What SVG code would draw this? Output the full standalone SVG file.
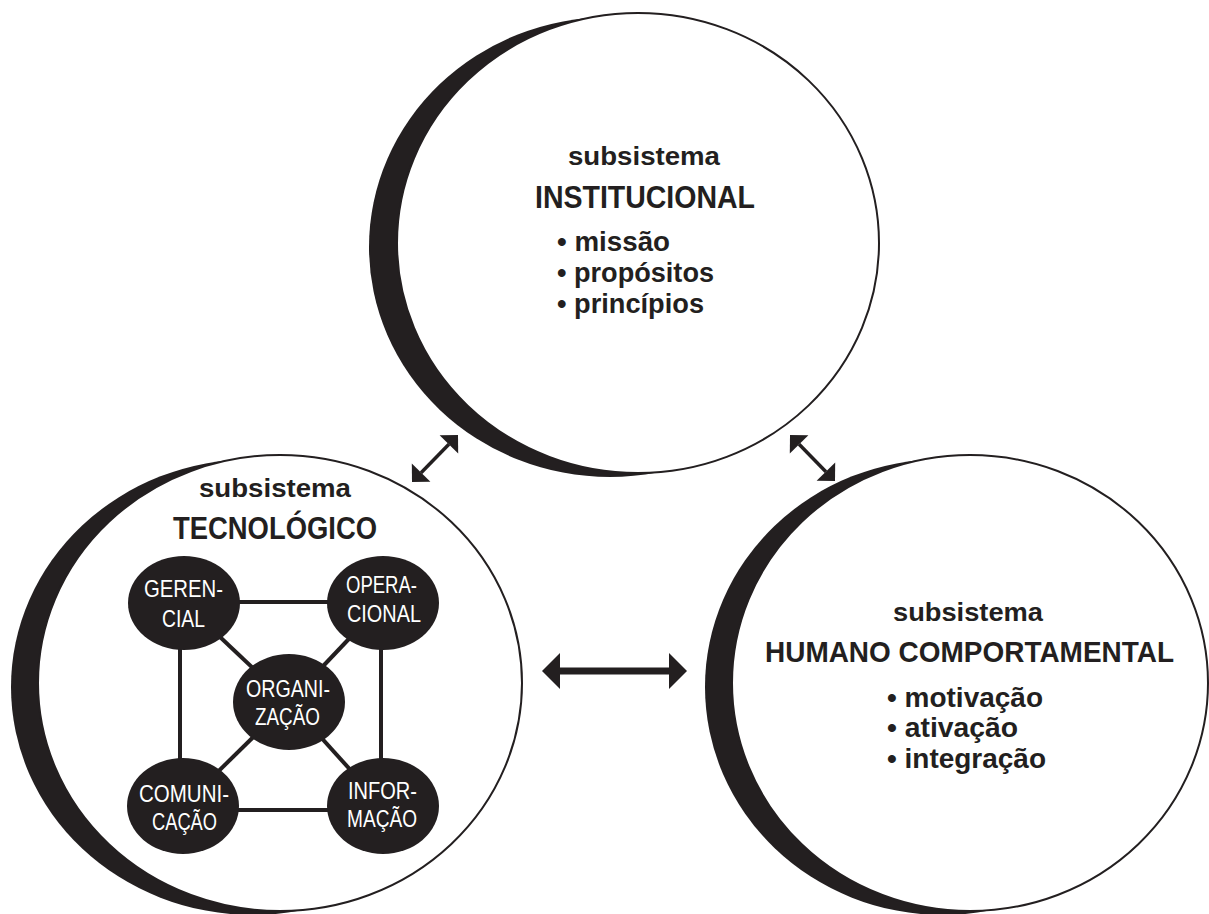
<svg xmlns="http://www.w3.org/2000/svg" width="1209" height="914" viewBox="0 0 1209 914">
<style>
  .bg { fill: #ffffff; }
  .shadow { fill: #231f20; }
  .ring { fill: #ffffff; stroke: #231f20; stroke-width: 2; }
  .t { font-family: "Liberation Sans", Arial, sans-serif; font-weight: bold; fill: #231f20; }
  .sub { font-size: 26px; }
  .title { font-size: 32px; }
  .title2 { font-size: 30px; }
  .item { font-size: 28px; }
  .node { fill: #231f20; }
  .nt { font-family: "Liberation Sans", Arial, sans-serif; font-weight: normal; font-size: 24px; fill: #ffffff; }
  .link { stroke: #231f20; stroke-width: 4; fill: none; }
  .arrow { stroke: #231f20; fill: none; }
</style>
<defs>
  <marker id="headBig" markerUnits="userSpaceOnUse" viewBox="0 0 18 36" markerWidth="18" markerHeight="36" refX="0" refY="18" orient="auto-start-reverse" overflow="visible">
    <path d="M0,0 L18,18 L0,36 Z" fill="#231f20"/>
  </marker>
  <marker id="headSmall" markerUnits="userSpaceOnUse" viewBox="0 0 13 26" markerWidth="13" markerHeight="26" refX="0" refY="13" orient="auto-start-reverse" overflow="visible">
    <path d="M0,0 L13,13 L0,26 Z" fill="#231f20"/>
  </marker>
</defs>
<rect class="bg" x="0" y="0" width="1209" height="914"/>

<g id="institucional">
  <ellipse class="shadow" cx="610" cy="247" rx="241" ry="230"/>
  <ellipse class="ring" cx="638" cy="243" rx="241" ry="230"/>
  <text class="t sub" x="568" y="165" textLength="152" lengthAdjust="spacingAndGlyphs">subsistema</text>
  <text class="t title" x="535" y="208" textLength="220" lengthAdjust="spacingAndGlyphs">INSTITUCIONAL</text>
  <text class="t item" x="557" y="251" textLength="113" lengthAdjust="spacingAndGlyphs">• missão</text>
  <text class="t item" x="557" y="282" textLength="157" lengthAdjust="spacingAndGlyphs">• propósitos</text>
  <text class="t item" x="557" y="313" textLength="147" lengthAdjust="spacingAndGlyphs">• princípios</text>
</g>

<g id="tecnologico">
  <ellipse class="shadow" cx="253" cy="687" rx="242" ry="228"/>
  <ellipse class="ring" cx="280" cy="683" rx="242" ry="228"/>
  <text class="t sub" x="199" y="497" textLength="152" lengthAdjust="spacingAndGlyphs">subsistema</text>
  <text class="t title" x="173" y="539" textLength="204" lengthAdjust="spacingAndGlyphs">TECNOLÓGICO</text>
</g>

<g id="tecnologico-links">
  <line class="link" x1="184" y1="602" x2="383" y2="602"/>
  <line class="link" x1="183" y1="810" x2="383" y2="810"/>
  <line class="link" x1="180" y1="603" x2="180" y2="806"/>
  <line class="link" x1="381" y1="603" x2="381" y2="806"/>
  <line class="link" x1="184" y1="603" x2="289" y2="702"/>
  <line class="link" x1="383" y1="603" x2="289" y2="702"/>
  <line class="link" x1="183" y1="806" x2="289" y2="702"/>
  <line class="link" x1="383" y1="806" x2="289" y2="702"/>
</g>

<g id="gerencial">
  <ellipse class="node" cx="184" cy="603" rx="56" ry="47"/>
  <text class="nt" x="144" y="597" textLength="79" lengthAdjust="spacingAndGlyphs">GEREN-</text>
  <text class="nt" x="162" y="627" textLength="43" lengthAdjust="spacingAndGlyphs">CIAL</text>
</g>
<g id="operacional">
  <ellipse class="node" cx="383" cy="603" rx="56" ry="47"/>
  <text class="nt" x="346" y="593" textLength="71" lengthAdjust="spacingAndGlyphs">OPERA-</text>
  <text class="nt" x="347" y="622" textLength="74" lengthAdjust="spacingAndGlyphs">CIONAL</text>
</g>
<g id="organizacao">
  <ellipse class="node" cx="289" cy="702" rx="56" ry="48"/>
  <text class="nt" x="246" y="697" textLength="84" lengthAdjust="spacingAndGlyphs">ORGANI-</text>
  <text class="nt" x="255" y="725" textLength="65" lengthAdjust="spacingAndGlyphs">ZAÇÃO</text>
</g>
<g id="comunicacao">
  <ellipse class="node" cx="183" cy="806" rx="56" ry="48"/>
  <text class="nt" x="139" y="802" textLength="90" lengthAdjust="spacingAndGlyphs">COMUNI-</text>
  <text class="nt" x="152" y="830" textLength="65" lengthAdjust="spacingAndGlyphs">CAÇÃO</text>
</g>
<g id="informacao">
  <ellipse class="node" cx="383" cy="806" rx="56" ry="48"/>
  <text class="nt" x="348" y="799" textLength="69" lengthAdjust="spacingAndGlyphs">INFOR-</text>
  <text class="nt" x="347" y="827" textLength="70" lengthAdjust="spacingAndGlyphs">MAÇÃO</text>
</g>

<g id="humano">
  <ellipse class="shadow" cx="943" cy="687" rx="238" ry="228"/>
  <ellipse class="ring" cx="970" cy="683" rx="238" ry="228"/>
  <text class="t sub" x="893" y="621" textLength="150" lengthAdjust="spacingAndGlyphs">subsistema</text>
  <text class="t title2" x="765" y="662" textLength="409" lengthAdjust="spacingAndGlyphs">HUMANO COMPORTAMENTAL</text>
  <text class="t item" x="887" y="707" textLength="156" lengthAdjust="spacingAndGlyphs">• motivação</text>
  <text class="t item" x="887" y="737" textLength="131" lengthAdjust="spacingAndGlyphs">• ativação</text>
  <text class="t item" x="887" y="768" textLength="159" lengthAdjust="spacingAndGlyphs">• integração</text>
</g>

<g id="connectors">
  <line class="arrow" x1="421.1" y1="472.7" x2="448.9" y2="444.3" stroke-width="3.5" marker-start="url(#headSmall)" marker-end="url(#headSmall)"/>
  <line class="arrow" x1="799.1" y1="444.3" x2="825.9" y2="471.7" stroke-width="3.5" marker-start="url(#headSmall)" marker-end="url(#headSmall)"/>
  <line class="arrow" x1="560" y1="671" x2="669" y2="671" stroke-width="7" marker-start="url(#headBig)" marker-end="url(#headBig)"/>
</g>
</svg>
